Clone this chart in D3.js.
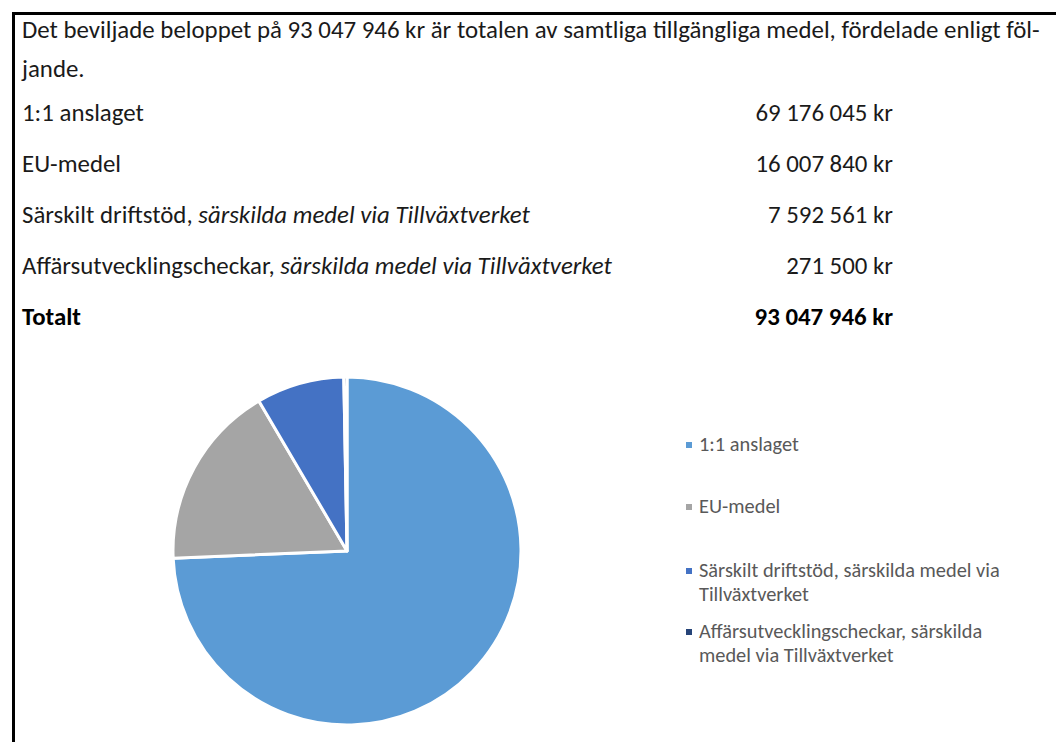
<!DOCTYPE html>
<html>
<head>
<meta charset="utf-8">
<script src="https://cdn.jsdelivr.net/npm/d3@7"></script>
<style>
  body { margin: 0; background: #fff; }
  svg { display: block; }
  text { font-family: Carlito, Lato, "Open Sans", sans-serif; }
</style>
</head>
<body>
<svg width="1056" height="742"></svg>
<script>
// data
var intro = ["Det beviljade beloppet på 93 047 946 kr är totalen av samtliga tillgängliga medel, fördelade enligt föl-", "jande."];
var categories = ["1:1 anslaget", "EU-medel", "Särskilt driftstöd, särskilda medel via Tillväxtverket", "Affärsutvecklingscheckar, särskilda medel via Tillväxtverket"];
var rowPlain = ["1:1 anslaget", "EU-medel", "Särskilt driftstöd, ", "Affärsutvecklingscheckar, "];
var rowItalic = ["", "", "särskilda medel via Tillväxtverket", "särskilda medel via Tillväxtverket"];
var amounts = [69176045, 16007840, 7592561, 271500];
var totalLabel = "Totalt";
var totalAmount = 93047946;
var legendLines = [["1:1 anslaget"], ["EU-medel"], ["Särskilt driftstöd, särskilda medel via", "Tillväxtverket"], ["Affärsutvecklingscheckar, särskilda", "medel via Tillväxtverket"]];
var colors = ["#5b9bd5", "#a5a5a5", "#4472c4", "#264478"];

var svg = d3.select("svg");

var sv = d3.formatLocale({decimal: ",", thousands: " ", grouping: [3], currency: ["", " kr"]});
var fmt = sv.format("$,");

// frame
svg.append("path")
    .attr("d", "M13.5,742 V13.5 H1056")
    .attr("fill", "none")
    .attr("stroke", "#000")
    .attr("stroke-width", 3);

// intro paragraph, size fitted to the width of the first line
var bodySize = 20;
var introText = svg.selectAll("text.intro")
  .data(intro)
  .enter().append("text")
    .attr("class", "intro")
    .attr("x", 22)
    .attr("y", (d, i) => 38 + i * 39)
    .attr("fill", "#1a1a1a")
    .style("font-size", bodySize + "px")
    .text(d => d);
var w0 = introText.node().getComputedTextLength();
bodySize = bodySize * 1018 / w0;
introText.style("font-size", bodySize + "px");

// amount table
var rowY = d3.scaleLinear().domain([0, 1]).range([121, 172]);

var rows = svg.selectAll("g.row")
  .data(amounts)
  .enter().append("g")
    .attr("class", "row")
    .attr("transform", (d, i) => "translate(0," + rowY(i) + ")");

var lbl = rows.append("text")
    .attr("x", 22)
    .attr("fill", "#1a1a1a")
    .style("font-size", bodySize + "px");
lbl.append("tspan").text((d, i) => rowPlain[i]);
lbl.append("tspan").style("font-style", "italic").text((d, i) => rowItalic[i]);

rows.append("text")
    .attr("x", 893)
    .attr("text-anchor", "end")
    .attr("fill", "#1a1a1a")
    .style("font-size", bodySize + "px")
    .text(d => fmt(d));

var tot = svg.append("g")
    .attr("transform", "translate(0," + rowY(amounts.length) + ")");
tot.append("text")
    .attr("x", 22)
    .attr("fill", "#000")
    .style("font-size", bodySize + "px")
    .style("font-weight", "bold")
    .text(totalLabel);
tot.append("text")
    .attr("x", 893)
    .attr("text-anchor", "end")
    .attr("fill", "#000")
    .style("font-size", bodySize + "px")
    .style("font-weight", "bold")
    .text(fmt(totalAmount));

// pie
var radius = 174;
var pie = d3.pie().sort(null).value(d => d);
var arc = d3.arc().innerRadius(0).outerRadius(radius);

var g = svg.append("g")
    .attr("transform", "translate(347,551)");

g.selectAll("path")
  .data(pie(amounts))
  .enter().append("path")
    .attr("d", arc)
    .attr("fill", (d, i) => colors[i])
    .attr("stroke", "#fff")
    .attr("stroke-width", 3)
    .attr("stroke-linejoin", "round");

// legend
var legY = [451, 513, 577, 638];
var leg = svg.selectAll("g.legend")
  .data(categories)
  .enter().append("g")
    .attr("class", "legend")
    .attr("transform", (d, i) => "translate(686," + legY[i] + ")");

leg.append("rect")
    .attr("x", 0)
    .attr("y", -9)
    .attr("width", 6)
    .attr("height", 6)
    .attr("fill", (d, i) => colors[i]);

var legSize = 16;
var legText = leg.append("text")
    .attr("fill", "#595959")
    .style("font-size", legSize + "px");
legText.selectAll("tspan")
  .data((d, i) => legendLines[i])
  .enter().append("tspan")
    .attr("x", 13)
    .attr("y", (d, j) => j * 24)
    .text(d => d);

// fit legend size to the width of the longest line (ends near x=1000)
var wl = legText.filter((d, i) => i === 2).select("tspan").node().getComputedTextLength();
legSize = legSize * 301 / wl;
legText.style("font-size", legSize + "px");
</script>
</body>
</html>
